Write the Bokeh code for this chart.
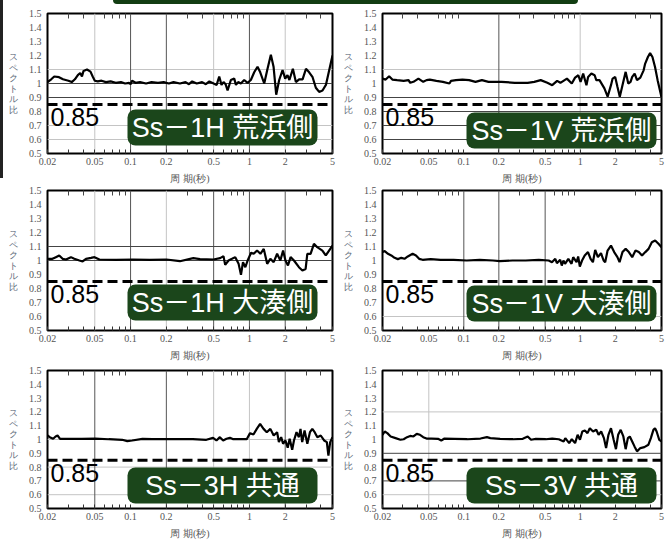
from bokeh.plotting import figure
from bokeh.layouts import column, row
from bokeh.models import (FixedTicker, Span, Label, BoxAnnotation, LogAxis, Range1d,
                          CustomJSTickFormatter)
from bokeh.embed import file_html
from bokeh.resources import INLINE

# ---------------- data ----------------
x_ticks = [0.02, 0.05, 0.1, 0.2, 0.5, 1, 2, 5]
x_tick_labels = ["0.02", "0.05", "0.1", "0.2", "0.5", "1", "2", "5"]
x_minor = [0.03, 0.04, 0.06, 0.07, 0.08, 0.09, 0.3, 0.4, 0.6, 0.7, 0.8, 0.9, 3, 4]
y_ticks = [0.5, 0.6, 0.7, 0.8, 0.9, 1.0, 1.1, 1.2, 1.3, 1.4, 1.5]
y_tick_labels = ["0.5", "0.6", "0.7", "0.8", "0.9", "1", "1.1", "1.2", "1.3", "1.4", "1.5"]
threshold = 0.85
threshold_text = "0.85"
x_title = "周 期(秒)"
y_title = "スペクトル比"
titles = ["Ss－1H 荒浜側", "Ss－1V 荒浜側", "Ss－1H 大湊側", "Ss－1V 大湊側", "Ss－3H 共通", "Ss－3V 共通"]

p1_t = [0.02, 0.0215, 0.0228, 0.025, 0.027, 0.030, 0.032, 0.034, 0.036, 0.0377,
        0.039, 0.0402, 0.043, 0.046, 0.048, 0.050, 0.053, 0.057, 0.062, 0.068,
        0.075, 0.083, 0.090, 0.097, 0.100, 0.103, 0.110, 0.120, 0.135, 0.150,
        0.170, 0.190, 0.210, 0.230, 0.260, 0.290, 0.310, 0.330, 0.360, 0.400,
        0.430, 0.460, 0.500, 0.530, 0.557, 0.582, 0.606, 0.630, 0.655, 0.698,
        0.745, 0.770, 0.804, 0.847, 0.904, 0.964, 1.028, 1.097, 1.170, 1.233,
        1.332, 1.420, 1.515, 1.596, 1.680, 1.780, 1.900, 2.000, 2.090, 2.170,
        2.320, 2.460, 2.620, 2.800, 2.990, 3.180, 3.400, 3.620, 3.860, 4.120,
        4.400, 4.690, 5.000]
p1_r = [1.01, 1.03, 1.05, 1.045, 1.03, 1.02, 1.01, 1.03, 1.06, 1.075,
        1.05, 1.09, 1.10, 1.085, 1.05, 1.02, 1.015, 1.02, 1.01, 1.015,
        1.005, 1.01, 1.0, 1.005, 0.995, 1.02, 1.005, 1.01, 1.0, 1.01,
        1.005, 1.01, 1.0, 1.01, 1.0, 1.01, 0.995, 1.015, 1.0, 1.01,
        0.995, 1.015, 1.0, 0.99, 1.05, 0.99, 1.01, 0.995, 0.95, 1.025,
        1.035, 0.99, 1.01, 1.0, 1.025, 1.005, 1.025, 1.08, 1.12, 1.08,
        1.0, 1.105, 1.205, 1.12, 0.92, 1.025, 1.095, 1.035, 1.06, 1.025,
        1.105, 1.01, 1.03, 1.03, 1.105, 1.08, 1.045, 0.97, 0.94, 0.95,
        0.99, 1.095, 1.2]

p2_t = [0.02, 0.0213, 0.0228, 0.0243, 0.0267, 0.0304, 0.0335, 0.0346, 0.0369, 0.0407,
        0.0448, 0.0478, 0.051, 0.0581, 0.0661, 0.0752, 0.0776, 0.0855, 0.0973, 0.111,
        0.126, 0.143, 0.163, 0.211, 0.274, 0.354, 0.403, 0.458, 0.522, 0.575,
        0.634, 0.676, 0.769, 0.847, 0.904, 0.964, 1.008, 1.061, 1.132, 1.17,
        1.248, 1.332, 1.375, 1.466, 1.615, 1.722, 1.84, 1.9, 2.0, 2.09,
        2.19, 2.31, 2.46, 2.59, 2.71, 2.8, 2.94, 3.08, 3.29, 3.51,
        3.62, 3.82, 3.99, 4.18, 4.4, 4.63, 4.84, 5.0]
p2_r = [1.035, 1.028, 1.052, 1.028, 1.024, 1.019, 1.024, 1.005, 1.012, 1.035,
        1.012, 1.024, 1.028, 1.019, 1.012, 1.0, 1.019, 1.024, 1.028, 1.024,
        1.012, 1.024, 1.012, 1.012, 1.005, 1.005, 1.012, 1.024, 1.005, 0.988,
        1.019, 1.005, 1.035, 1.0, 1.042, 1.059, 1.012, 1.071, 0.988, 1.047,
        1.071, 1.059, 1.024, 1.024, 0.965, 0.906, 0.988, 1.035, 1.047, 0.976,
        0.906, 0.988, 1.083, 1.0, 1.012, 1.047, 1.071, 1.024, 1.042, 1.094,
        1.142, 1.189, 1.217, 1.189, 1.118, 1.024, 0.953, 0.901]

p3_t = [0.02, 0.022, 0.0235, 0.0251, 0.0268, 0.0286, 0.0315, 0.0336, 0.0371, 0.0395,
        0.0422, 0.0465, 0.0497, 0.0547, 0.0757, 0.1047, 0.145, 0.200, 0.260, 0.337,
        0.384, 0.498, 0.567, 0.605, 0.625, 0.667, 0.713, 0.760, 0.811, 0.849,
        0.883, 0.924, 0.966, 1.032, 1.087, 1.159, 1.237, 1.32, 1.41, 1.50,
        1.60, 1.71, 1.82, 1.92, 2.01, 2.11, 2.22, 2.37, 2.61, 2.79,
        2.97, 3.07, 3.27, 3.49, 3.72, 4.11, 4.39, 4.68, 5.0]
p3_r = [1.012, 1.012, 1.024, 1.036, 1.012, 1.007, 1.024, 1.012, 1.0, 0.993,
        1.012, 1.019, 1.024, 1.007, 1.005, 1.007, 1.005, 1.007, 0.995, 1.017,
        1.01, 1.007, 1.017, 1.031, 0.969, 1.0, 1.012, 1.024, 0.976, 0.898,
        0.988, 0.952, 1.0, 1.055, 1.048, 1.071, 1.048, 1.083, 0.976, 1.012,
        0.988, 1.048, 1.0, 1.071, 1.0, 0.964, 1.024, 1.0, 0.952, 0.929,
        0.94, 1.048, 1.048, 1.119, 1.095, 1.071, 1.036, 1.071, 1.107]

p4_t = [0.02, 0.0209, 0.0223, 0.0238, 0.0254, 0.0271, 0.029, 0.0309, 0.033, 0.0363,
        0.0388, 0.0413, 0.0442, 0.0519, 0.0631, 0.0817, 0.106, 0.137, 0.178, 0.203,
        0.262, 0.340, 0.441, 0.536, 0.572, 0.611, 0.631, 0.673, 0.695, 0.718,
        0.741, 0.791, 0.843, 0.871, 0.931, 0.961, 0.993, 1.038, 1.094, 1.167,
        1.229, 1.287, 1.346, 1.42, 1.51, 1.59, 1.64, 1.72, 1.84, 1.96,
        2.09, 2.18, 2.31, 2.46, 2.62, 2.80, 2.99, 3.19, 3.40, 3.63,
        3.87, 4.13, 4.41, 4.71, 5.0]
p4_r = [1.06, 1.067, 1.048, 1.036, 1.019, 1.01, 1.019, 1.012, 1.029, 1.048,
        1.036, 1.012, 1.005, 1.01, 1.005, 1.005, 1.0, 1.005, 1.0, 0.995,
        1.0, 1.0, 1.005, 1.0, 0.988, 1.012, 0.981, 1.005, 0.964, 1.0,
        0.976, 1.012, 0.976, 1.024, 0.988, 1.029, 0.957, 1.0, 1.036, 1.06,
        1.012, 0.988, 1.076, 1.024, 1.052, 1.0, 0.988, 1.071, 1.107, 1.06,
        1.024, 0.988, 1.06, 1.083, 1.06, 1.024, 1.071, 1.06, 1.036, 1.06,
        1.083, 1.131, 1.143, 1.119, 1.095]

p5_t = [0.02, 0.0209, 0.0223, 0.0234, 0.0243, 0.0255, 0.0281, 0.0389, 0.0505, 0.0655,
        0.0851, 0.0938, 0.103, 0.126, 0.153, 0.199, 0.258, 0.334, 0.434, 0.494,
        0.528, 0.564, 0.601, 0.641, 0.686, 0.731, 0.949, 1.012, 1.081, 1.153,
        1.23, 1.315, 1.40, 1.50, 1.60, 1.71, 1.77, 1.85, 1.92, 2.01,
        2.10, 2.18, 2.29, 2.37, 2.49, 2.61, 2.69, 2.78, 2.91, 3.07,
        3.23, 3.38, 3.54, 3.73, 3.98, 4.25, 4.48, 4.62, 4.78, 5.0]
p5_r = [1.029, 1.017, 1.005, 1.022, 1.029, 1.005, 1.005, 1.005, 1.007, 1.002,
        0.998, 0.988, 0.993, 1.005, 1.002, 1.002, 1.002, 1.002, 0.998, 1.012,
        0.993, 1.017, 0.993, 1.005, 1.012, 1.002, 1.002, 1.046, 1.036, 1.077,
        1.113, 1.077, 1.053, 1.077, 1.029, 1.053, 0.981, 1.017, 0.969, 0.993,
        0.94, 1.005, 0.925, 0.993, 1.053, 1.017, 1.077, 0.981, 1.065, 0.969,
        1.053, 1.077, 1.053, 1.017, 1.029, 0.993, 0.981, 0.884, 0.981, 1.017]

p6_t = [0.02, 0.0209, 0.022, 0.0235, 0.0259, 0.0285, 0.0304, 0.0325, 0.0346, 0.0369,
        0.0394, 0.042, 0.0448, 0.0478, 0.0527, 0.06, 0.064, 0.0682, 0.0828, 0.107,
        0.139, 0.158, 0.169, 0.205, 0.265, 0.321, 0.354, 0.378, 0.416, 0.506,
        0.575, 0.655, 0.721, 0.745, 0.804, 0.847, 0.904, 0.951, 0.996, 1.043,
        1.097, 1.156, 1.21, 1.29, 1.375, 1.44, 1.515, 1.60, 1.67, 1.75,
        1.84, 1.94, 2.03, 2.12, 2.23, 2.35, 2.46, 2.57, 2.67, 2.80,
        2.93, 3.08, 3.29, 3.56, 3.86, 4.05, 4.26, 4.40, 4.54, 4.78,
        5.0]
p6_r = [1.034, 1.058, 1.046, 1.022, 1.01, 0.998, 1.002, 1.017, 1.026, 1.022,
        1.041, 1.034, 1.017, 1.007, 1.007, 1.005, 0.993, 1.007, 1.005, 1.002,
        1.007, 1.017, 1.01, 1.005, 1.002, 1.005, 1.022, 0.998, 1.005, 1.002,
        1.007, 1.002, 0.986, 1.01, 0.974, 1.002, 0.974, 1.034, 0.998, 1.058,
        1.065, 1.046, 1.082, 1.058, 1.07, 1.034, 1.058, 1.01, 0.938, 1.034,
        1.082, 0.998, 0.93, 1.034, 1.07, 1.022, 0.93, 1.01, 1.022, 0.986,
        0.95, 0.914, 0.938, 0.945, 0.962, 1.01, 1.07, 1.082, 1.058, 0.998,
        0.986]

# grid lines visible in each panel (period / ratio values)
grids = [
    dict(vd=[0.1, 0.2, 1], vl=[0.05, 0.5, 2], hd=[1.0, 0.9], hl=[1.1, 0.7, 0.6]),
    dict(vd=[0.2], vl=[1], hd=[0.9, 0.8, 0.7, 0.6], hl=[1.1]),
    dict(vd=[0.1, 0.5, 1, 2], vl=[0.05, 0.2], hd=[1.1, 1.0], hl=[]),
    dict(vd=[0.1, 0.2, 0.5], vl=[], hd=[], hl=[0.6]),
    dict(vd=[0.05, 0.2, 2], vl=[0.5, 1], hd=[], hl=[1.0, 0.8, 0.6]),
    dict(vd=[], vl=[0.05], hd=[0.9, 0.7], hl=[1.2, 0.6]),
]

GREEN = "#1b461b"
TICK_FONT = "Liberation Serif"
TICK_COLOR = "#555555"


def make_panel(t, r, title, grid, width, height, bl, br, bt, bb,
               box_right, box_bottom):
    p = figure(width=width, height=height, x_axis_type="log",
               x_range=Range1d(0.02, 5), y_range=Range1d(0.5, 1.5),
               output_backend="svg", toolbar_location=None)
    p.min_border_left = bl
    p.min_border_right = br
    p.min_border_top = bt
    p.min_border_bottom = bb
    p.background_fill_color = "white"
    p.border_fill_color = "white"
    p.outline_line_color = "black"
    p.outline_line_width = 2
    p.xgrid.visible = False
    p.ygrid.visible = False

    fw = width - bl - br

    for v in grid["vl"]:
        p.add_layout(Span(location=v, dimension="height", line_color="#c4c4c4",
                          line_width=1, level="underlay"))
    for v in grid["hl"]:
        p.add_layout(Span(location=v, dimension="width", line_color="#c4c4c4",
                          line_width=1, level="underlay"))
    for v in grid["vd"]:
        p.add_layout(Span(location=v, dimension="height", line_color="#555555",
                          line_width=1, level="underlay"))
    for v in grid["hd"]:
        p.add_layout(Span(location=v, dimension="width", line_color="#444444",
                          line_width=1, level="underlay"))

    p.add_layout(Span(location=threshold, dimension="width", line_color="black",
                      line_width=3, line_dash="10 5"))

    p.line(t, r, line_color="black", line_width=2.2)

    # bottom axis
    xa = p.xaxis[0]
    xa.ticker = FixedTicker(ticks=x_ticks, minor_ticks=x_minor)
    xa.major_label_overrides = dict(zip(x_ticks, x_tick_labels))
    xa.axis_line_color = None
    xa.major_tick_in = 4
    xa.major_tick_out = 0
    xa.minor_tick_in = 4
    xa.minor_tick_out = 0
    xa.major_tick_line_color = "#333333"
    xa.minor_tick_line_color = "#333333"
    xa.major_label_standoff = 4
    xa.major_label_text_font = TICK_FONT
    xa.major_label_text_font_size = "10px"
    xa.major_label_text_color = TICK_COLOR
    xa.axis_label = x_title
    xa.axis_label_standoff = 5
    xa.axis_label_text_font = TICK_FONT
    xa.axis_label_text_font_size = "10px"
    xa.axis_label_text_font_style = "normal"
    xa.axis_label_text_color = "#555555"

    # top ticks (no labels)
    top = LogAxis(ticker=FixedTicker(ticks=x_ticks, minor_ticks=x_minor),
                  formatter=CustomJSTickFormatter(code="return ''"),
                  major_label_text_font_size="1px", major_label_standoff=0,
                  major_tick_in=0, major_tick_out=0,
                  minor_tick_in=5, minor_tick_out=0,
                  minor_tick_line_color="#444444", axis_line_color=None)
    p.add_layout(top, "above")

    ya = p.yaxis[0]
    ya.ticker = FixedTicker(ticks=y_ticks, minor_ticks=[])
    ya.major_label_overrides = dict(zip(y_ticks, y_tick_labels))
    ya.axis_line_color = None
    ya.major_tick_in = 0
    ya.major_tick_out = 0
    ya.minor_tick_in = 0
    ya.minor_tick_out = 0
    ya.major_label_standoff = 6
    ya.major_label_text_font = TICK_FONT
    ya.major_label_text_font_size = "10px"
    ya.major_label_text_color = TICK_COLOR
    try:
        ya.axis_label_orientation = "horizontal"
        ya.axis_label = "\n".join(y_title)
    except Exception:
        ya.axis_label = y_title
    ya.axis_label_standoff = 8
    ya.axis_label_text_font = TICK_FONT
    ya.axis_label_text_font_size = "9px"
    ya.axis_label_text_font_style = "normal"
    ya.axis_label_text_color = "#5d6a78"
    ya.axis_label_text_line_height = 1.05

    # threshold value text
    p.add_layout(Label(x=3, y=0.76, x_units="screen", y_units="data",
                       text=threshold_text, text_font="Liberation Sans",
                       text_font_size="25px", text_color="black",
                       text_align="left", text_baseline="alphabetic"))

    # green title box
    bw, bh = 190, 36
    right = fw - box_right
    p.add_layout(BoxAnnotation(left=right - bw, right=right,
                               bottom=box_bottom, top=box_bottom + bh,
                               left_units="screen", right_units="screen",
                               top_units="screen", bottom_units="screen",
                               fill_color=GREEN, fill_alpha=1.0,
                               line_color=None, border_radius=8))
    p.add_layout(Label(x=right - bw / 2, y=box_bottom + bh / 2,
                       x_units="screen", y_units="screen",
                       text=title, text_font="Liberation Sans, Noto Sans CJK JP",
                       text_font_size="27px", text_color="white",
                       text_align="center", text_baseline="middle"))
    return p


LW, RW = 340, 329
rows_h = [186, 178, 180]
tops = [13, 4, 6]
bottoms = [32, 34, 36]
box_bottoms = [[8, 5], [10, 9], [5, 5]]
data = [(p1_t, p1_r), (p2_t, p2_r), (p3_t, p3_r), (p4_t, p4_r), (p5_t, p5_r), (p6_t, p6_r)]

rows = []
for i in range(3):
    tl, rl = data[2 * i]
    tr, rr = data[2 * i + 1]
    left = make_panel(tl, rl, titles[2 * i], grids[2 * i], LW, rows_h[i], 47, 8,
                      tops[i], bottoms[i], 15, box_bottoms[i][0])
    rightp = make_panel(tr, rr, titles[2 * i + 1], grids[2 * i + 1], RW, rows_h[i], 37, 8,
                        tops[i], bottoms[i], 10, box_bottoms[i][1])
    rows.append(row(left, rightp, spacing=0))

css = (":host { position: relative; } "
       ":host::before { content: ''; position: absolute; left: 113px; top: 0px; "
       "width: 465px; height: 4px; background-color: #123d12; "
       "border-radius: 0 0 12px 12px; z-index: 50; } "
       ":host::after { content: ''; position: absolute; left: 0px; top: 0px; "
       "width: 3px; height: 178px; background-color: #222222; z-index: 50; }")

layout = column(*rows, spacing=0, stylesheets=[css])

open("out.html", "w").write(file_html(layout, INLINE))
